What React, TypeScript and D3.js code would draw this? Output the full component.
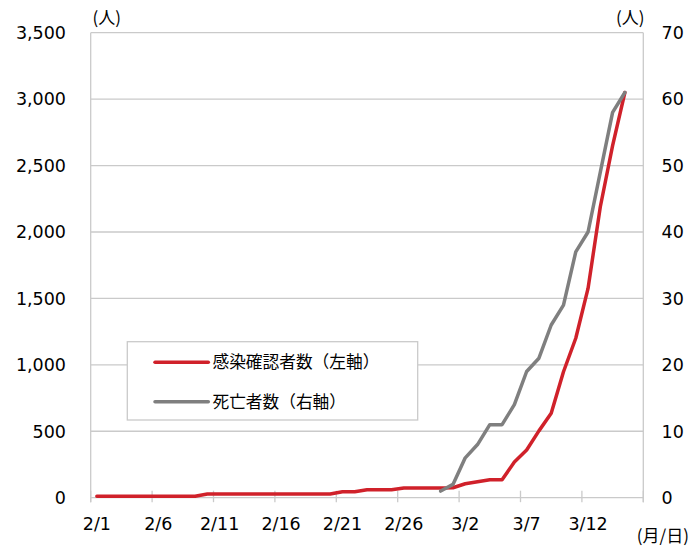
import React from "react";
import * as d3 from "d3";

const categories = [
  "2/1","2/2","2/3","2/4","2/5","2/6","2/7","2/8","2/9","2/10",
  "2/11","2/12","2/13","2/14","2/15","2/16","2/17","2/18","2/19","2/20",
  "2/21","2/22","2/23","2/24","2/25","2/26","2/27","2/28","2/29","3/1",
  "3/2","3/3","3/4","3/5","3/6","3/7","3/8","3/9","3/10","3/11",
  "3/12","3/13","3/14","3/15","3/16",
];

// 感染確認者数（左軸）
const confirmed: (number | null)[] = [
  11, 11, 11, 11, 11, 11, 11, 11, 11, 28,
  28, 28, 28, 28, 28, 28, 28, 28, 28, 28,
  45, 45, 60, 60, 60, 73, 73, 73, 73, 75,
  105, 120, 135, 135, 268, 359, 503, 635, 948, 1200,
  1575, 2190, 2650, 3050, null,
];

// 死亡者数（右軸）
const deaths: (number | null)[] = [
  null, null, null, null, null, null, null, null, null, null,
  null, null, null, null, null, null, null, null, null, null,
  null, null, null, null, null, null, null, null, 1, 2,
  6, 8, 11, 11, 14, 19, 21, 26, 29, 37,
  40, 49, 58, 61, null,
];

const leftTicks = [0, 500, 1000, 1500, 2000, 2500, 3000, 3500];
const rightTicks = [0, 10, 20, 30, 40, 50, 60, 70];
const xTickEvery = 5;

const W = 699;
const H = 546;
const L = 90.7;
const R = 643.3;
const T = 32.7;
const B = 497.7;

const RED = "#d0212a";
const GRAY = "#7f7f7f";
const GRID = "#cacaca";
const FONT = "'DejaVu Sans', Verdana, sans-serif";
const JFONT = "'Noto Sans CJK JP', 'Noto Sans', sans-serif";

export default function App() {
  const x = d3.scaleBand<string>().domain(categories).range([L, R]).padding(0);
  const bw = x.bandwidth();
  const cx = (i: number) => (x(categories[i]) as number) + bw / 2;
  const yL = d3.scaleLinear().domain([0, 3500]).range([B, T]);
  const yR = d3.scaleLinear().domain([0, 70]).range([B, T]);

  const lineL = d3
    .line<number | null>()
    .defined((d) => d != null)
    .x((_, i) => cx(i))
    .y((d) => yL(d as number));
  const lineR = d3
    .line<number | null>()
    .defined((d) => d != null)
    .x((_, i) => cx(i))
    .y((d) => yR(d as number));

  const tickIdx = d3.range(0, categories.length + 1, xTickEvery);
  const tickX = (i: number) => (i < categories.length ? (x(categories[i]) as number) : R);

  return (
    <svg
      width={W}
      height={H}
      style={{ position: "absolute", left: 0, top: 0, background: "#fff" }}
    >
      <rect x={0} y={0} width={W} height={H} fill="#fff" />
      {/* gridlines */}
      {leftTicks.map((t) => (
        <line key={"g" + t} x1={L} x2={R} y1={yL(t)} y2={yL(t)} stroke={GRID} strokeWidth={1.3} />
      ))}
      {/* vertical axes */}
      <line x1={L} x2={L} y1={T} y2={B + 4.5} stroke={GRID} strokeWidth={1.3} />
      <line x1={R} x2={R} y1={T} y2={B + 4.5} stroke={GRID} strokeWidth={1.3} />
      {/* x ticks */}
      {tickIdx.map((i) => (
        <line key={"xt" + i} x1={tickX(i)} x2={tickX(i)} y1={B - 7} y2={B + 4.5} stroke={GRID} strokeWidth={1.3} />
      ))}
      {/* left tick labels */}
      {leftTicks.map((t) => (
        <text
          key={"lt" + t}
          x={66}
          y={yL(t)}
          dy="0.36em"
          textAnchor="end"
          fontFamily={FONT}
          fontSize={17.5}
          fill="#000"
        >
          {d3.format(",")(t)}
        </text>
      ))}
      {/* right tick labels */}
      {rightTicks.map((t) => (
        <text
          key={"rt" + t}
          x={661.5}
          y={yR(t)}
          dy="0.36em"
          textAnchor="start"
          fontFamily={FONT}
          fontSize={17.5}
          fill="#000"
        >
          {t}
        </text>
      ))}
      {/* x labels */}
      {categories.map((c, i) =>
        i % xTickEvery === 0 ? (
          <text
            key={"xl" + c}
            x={cx(i)}
            y={530}
            textAnchor="middle"
            fontFamily={FONT}
            fontSize={17.5}
            fill="#000"
          >
            {c}
          </text>
        ) : null
      )}
      {/* unit labels */}
      <text x={92.5} y={24} fontFamily={JFONT} fontSize={17} fill="#000">(人)</text>
      <text x={616} y={24} fontFamily={JFONT} fontSize={17} fill="#000">(人)</text>
      <text x={689} y={542} textAnchor="end" fontFamily={JFONT} fontSize={17} fill="#000">(月/日)</text>

      {/* series */}
      <path d={lineL(confirmed) || ""} fill="none" stroke={RED} strokeWidth={3.5} strokeLinejoin="round" strokeLinecap="round" />
      <path d={lineR(deaths) || ""} fill="none" stroke={GRAY} strokeWidth={3.5} strokeLinejoin="round" strokeLinecap="round" />

      {/* legend */}
      <rect x={127.3} y={341.7} width={290.4} height={78.3} fill="#fff" stroke={GRID} strokeWidth={1.3} />
      <line x1={155} x2={208.3} y1={362.3} y2={362.3} stroke={RED} strokeWidth={3.5} strokeLinecap="round" />
      <text x={212.5} y={362.3} dy="0.36em" fontFamily={JFONT} fontSize={16.7} fill="#000">感染確認者数（左軸）</text>
      <line x1={155} x2={208.3} y1={401.7} y2={401.7} stroke={GRAY} strokeWidth={3.5} strokeLinecap="round" />
      <text x={212.5} y={401.7} dy="0.36em" fontFamily={JFONT} fontSize={16.7} fill="#000">死亡者数（右軸）</text>
    </svg>
  );
}
